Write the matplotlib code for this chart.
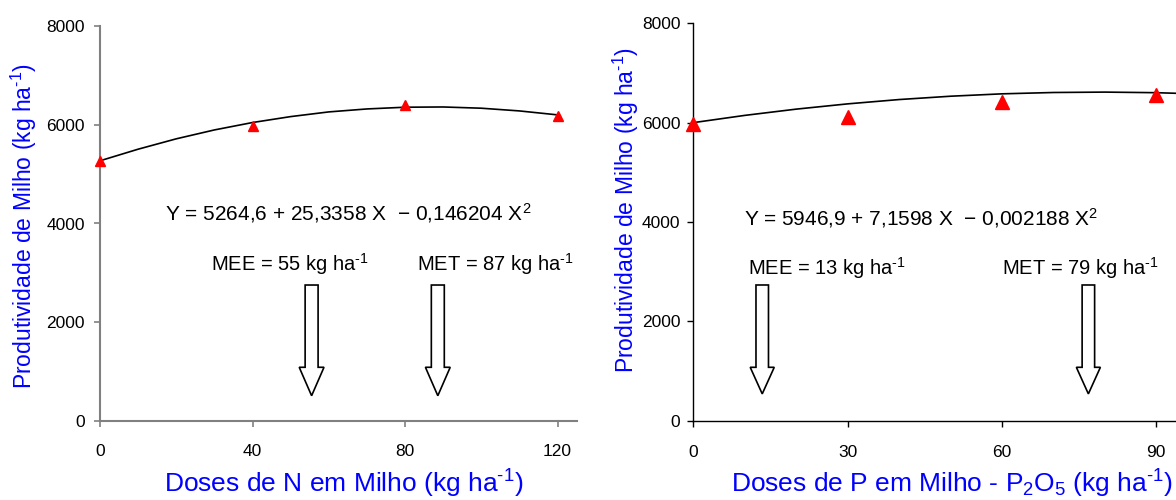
import matplotlib.pyplot as plt
from matplotlib.patches import FancyArrow

plt.rcParams['font.family'] = ['Liberation Sans', 'DejaVu Sans']
plt.rcParams['mathtext.fontset'] = 'custom'
plt.rcParams['mathtext.rm'] = 'Liberation Sans'
plt.rcParams['mathtext.it'] = 'Liberation Sans:italic'
plt.rcParams['mathtext.bf'] = 'Liberation Sans:bold'

SUP = '$^{\\text{-1}}$'

# --- Nitrogenio ---
doses_n = [0, 40, 80, 120]
prod_n = [5270, 5980, 6405, 6175]
curva_n_x = [0, 10, 20, 30, 40, 50, 60, 70, 80, 90, 100, 110, 120]
curva_n_y = [5270, 5505, 5715, 5895, 6045, 6165, 6260, 6320, 6355, 6360, 6335, 6280, 6200]
eq_n = 'Y = 5264,6 + 25,3358 X  \u2212 0,146204 X$^{2}$'
mee_n = 'MEE = 55 kg ha' + SUP
met_n = 'MET = 87 kg ha' + SUP
setas_n = [55.5, 88.6]

# --- Fosforo ---
doses_p = [0, 30, 60, 90]
prod_p = [5965, 6115, 6415, 6550]
curva_p_x = [0, 10, 20, 30, 40, 50, 60, 70, 80, 90, 100, 110, 120]
curva_p_y = [6000, 6146, 6272, 6378, 6465, 6532, 6580, 6607, 6615, 6603, 6572, 6521, 6450]
eq_p = 'Y = 5946,9 + 7,1598 X  \u2212 0,002188 X$^{2}$'
mee_p = 'MEE = 13 kg ha' + SUP
met_p = 'MET = 79 kg ha' + SUP
setas_p = [13.4, 76.8]

azul = '#0000FF'

fig = plt.figure(figsize=(11.76, 5), dpi=100)
ax1 = fig.add_axes([100 / 1176, 79 / 500, 476.6 / 1176, 395 / 500])
ax2 = fig.add_axes([693.3 / 1176, 79.3 / 500, 617.3 / 1176, 397.4 / 500])

# painel N
ax1.plot(curva_n_x, curva_n_y, color='black', lw=1.2, zorder=2)
ax1.plot(doses_n, prod_n, ls='none', marker='^', color='red', ms=7.5, zorder=3, clip_on=False)
ax1.set_xlim(0, 125)
ax1.set_ylim(0, 8000)
ax1.set_xticks([0, 40, 80, 120])
ax1.set_yticks([0, 2000, 4000, 6000, 8000])
for s in ['top', 'right']:
    ax1.spines[s].set_visible(False)
for s in ['left', 'bottom']:
    ax1.spines[s].set_color('#808080')
    ax1.spines[s].set_linewidth(1.5)
ax1.tick_params(axis='both', direction='out', length=4.3, width=1.2, color='#808080', labelsize=12.5)
ax1.tick_params(axis='x', pad=12.5)
ax1.tick_params(axis='y', pad=6.5)

ax1.text(65.1, 4057, eq_n, ha='center', va='baseline', fontsize=15)
ax1.text(49.8, 3044, mee_n, ha='center', va='baseline', fontsize=14.5)
ax1.text(103.8, 3044, met_n, ha='center', va='baseline', fontsize=14.5)
for x in setas_n:
    ax1.add_patch(FancyArrow(x, 2754, 0, 512 - 2754, width=3.4, head_width=6.5,
                             head_length=1088 - 512, length_includes_head=True,
                             fc='white', ec='black', lw=1.2))

# painel P (cortado na borda direita, como no original)
ax2.plot(curva_p_x, curva_p_y, color='black', lw=1.2, zorder=2)
ax2.plot(doses_p, prod_p, ls='none', marker='^', color='red', ms=9.5, zorder=3, clip_on=False)
ax2.set_xlim(0, 120)
ax2.set_ylim(0, 8000)
ax2.set_xticks([0, 30, 60, 90])
ax2.set_yticks([0, 2000, 4000, 6000, 8000])
for s in ['top', 'right']:
    ax2.spines[s].set_visible(False)
for s in ['left', 'bottom']:
    ax2.spines[s].set_color('black')
    ax2.spines[s].set_linewidth(1.0)
ax2.tick_params(axis='both', direction='out', length=4.3, width=1.0, color='black', labelsize=12.5)
ax2.tick_params(axis='x', pad=13.5)
ax2.tick_params(axis='y', pad=5)

ax2.text(44.3, 3940, eq_p, ha='center', va='baseline', fontsize=15)
ax2.text(26.0, 2933, mee_p, ha='center', va='baseline', fontsize=14.5)
ax2.text(75.2, 2933, met_p, ha='center', va='baseline', fontsize=14.5)
for x in setas_p:
    ax2.add_patch(FancyArrow(x, 2732, 0, 540 - 2732, width=2.43, head_width=4.67,
                             head_length=1075 - 540, length_includes_head=True,
                             fc='white', ec='black', lw=1.2))

# rotulos dos eixos
fig.text(24 / 1176, 1 - 226 / 500, 'Produtividade de Milho (kg ha' + SUP + ')',
         rotation=90, ha='center', va='center', color=azul, fontsize=16.5)
fig.text(626 / 1176, 1 - 210 / 500, 'Produtividade de Milho (kg ha' + SUP + ')',
         rotation=90, ha='center', va='center', color=azul, fontsize=16.5)
fig.text(344 / 1176, 1 - 493 / 500, 'Doses de N em Milho (kg ha' + SUP + ')',
         ha='center', va='baseline', color=azul, fontsize=19)
fig.text(952 / 1176, 1 - 493 / 500,
         'Doses de P em Milho - P$_{\\mathregular{2}}$O$_{\\mathregular{5}}$ (kg ha' + SUP + ')',
         ha='center', va='baseline', color=azul, fontsize=19)

fig.savefig('out.png', dpi=100)
